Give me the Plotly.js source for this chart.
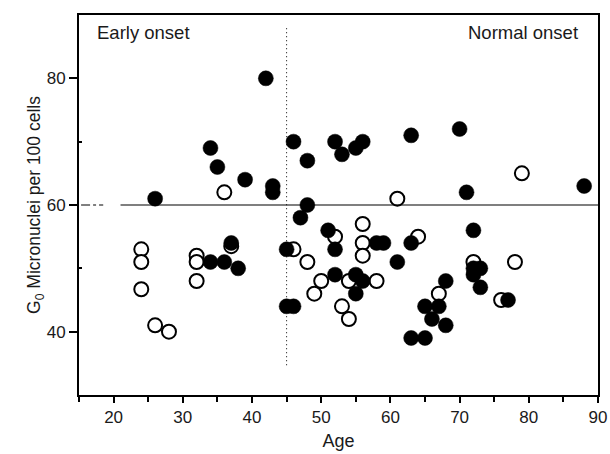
<!DOCTYPE html>
<html>
<head>
<meta charset="utf-8">
<script src="https://cdn.plot.ly/plotly-3.0.1.min.js"></script>
<style>html,body{margin:0;padding:0;background:#fff;}#chart{width:610px;height:454px;}</style>
</head>
<body>
<div id="chart"></div>
<script>
// Filled circles
const filledAge = [26,42,34,35,39,43,43,46,48,52,53,55,56,63,70,71,88,48,47,51,52,45,58,59,61,52,55,56,55,45,46,63,72,72,72,73,73,68,65,67,66,68,63,65,77,34,36,38,37];
const filledMN  = [61,80,69,66,64,63,62,70,67,70,68,69,70,71,72,62,63,60,58,56,53,53,54,54,51,49,49,48,46,44,44,54,56,50,49,50,47,48,44,44,42,41,39,39,45,51,51,50,54];
// Open circles
const openAge = [24,24,24,26,28,32,32,32,37,36,46,48,50,49,52,56,56,56,54,58,53,54,61,64,67,72,78,76,79];
const openMN  = [53,51,46.7,41,40,52,51,48,53.5,62,53,51,48,46,55,57,54,52,48,48,44,42,61,55,46,51,51,45,65];
// Reference lines
const cutoffAge = 45;
const thresholdMN = 60;
const groupLabels = ["Early onset", "Normal onset"];
const xTicks = [20,30,40,50,60,70,80,90];
const yTicks = [40,60,80];

const font = "Liberation Sans, Arial, sans-serif";
const txt = '#1a1a1a';

const traces = [
  {x: openAge, y: openMN, type: 'scatter', mode: 'markers', cliponaxis: false,
   marker: {size: 14, color: '#fff', line: {color: '#000', width: 2}}},
  {x: filledAge, y: filledMN, type: 'scatter', mode: 'markers', cliponaxis: false,
   marker: {size: 15, color: '#000', line: {color: '#000', width: 0.5}}}
];

const layout = {
  width: 610, height: 454,
  margin: {l: 79, r: 12, t: 15, b: 59},
  paper_bgcolor: '#fff', plot_bgcolor: '#fff',
  showlegend: false,
  font: {family: font, size: 17, color: txt},
  xaxis: {
    range: [15, 90], showgrid: false, zeroline: false,
    tickmode: 'array', tickvals: xTicks, ticks: 'outside', ticklen: 6, tickwidth: 2, tickcolor: '#000',
    minor: {dtick: 5, tick0: 15, ticks: 'outside', ticklen: 5, tickwidth: 2, tickcolor: '#000'},
    showline: true, linewidth: 2, linecolor: '#000', mirror: true,
    tickfont: {size: 17, color: txt},
    title: {text: 'Age', font: {size: 18, color: txt}, standoff: 8}
  },
  yaxis: {
    range: [30, 90], showgrid: false, zeroline: false,
    tickmode: 'array', tickvals: yTicks, ticks: 'outside', ticklen: 8, tickwidth: 2, tickcolor: '#000',
    minor: {tickvals: [50, 70], ticks: 'inside', ticklen: 3, tickwidth: 2, tickcolor: '#000'},
    showline: true, linewidth: 2, linecolor: '#000', mirror: true,
    tickfont: {size: 17, color: txt},
    title: {text: 'G<sub>0</sub> Micronuclei per 100 cells', font: {size: 17.5, color: txt}, standoff: 1}
  },
  shapes: [
    {type: 'line', xref: 'x', yref: 'y', x0: 21, x1: 90, y0: thresholdMN, y1: thresholdMN,
     line: {color: '#000', width: 1.2}},
    {type: 'line', xref: 'x', yref: 'y', x0: 15.3, x1: 18.5, y0: thresholdMN, y1: thresholdMN,
     line: {color: '#000', width: 1, dash: 'dashdot'}},
    {type: 'line', xref: 'x', yref: 'y', x0: cutoffAge, x1: cutoffAge, y0: 34.7, y1: 88,
     line: {color: '#000', width: 1, dash: '1px,3px'}}
  ],
  annotations: [
    {xref: 'paper', yref: 'paper', x: 0.031, y: 0.955, xanchor: 'left', yanchor: 'middle',
     text: groupLabels[0], showarrow: false, font: {size: 18.5, color: txt}},
    {xref: 'paper', yref: 'paper', x: 0.966, y: 0.955, xanchor: 'right', yanchor: 'middle',
     text: groupLabels[1], showarrow: false, font: {size: 18.5, color: txt}}
  ]
};

Plotly.newPlot('chart', traces, layout, {displayModeBar: false, staticPlot: true});
</script>
</body>
</html>
